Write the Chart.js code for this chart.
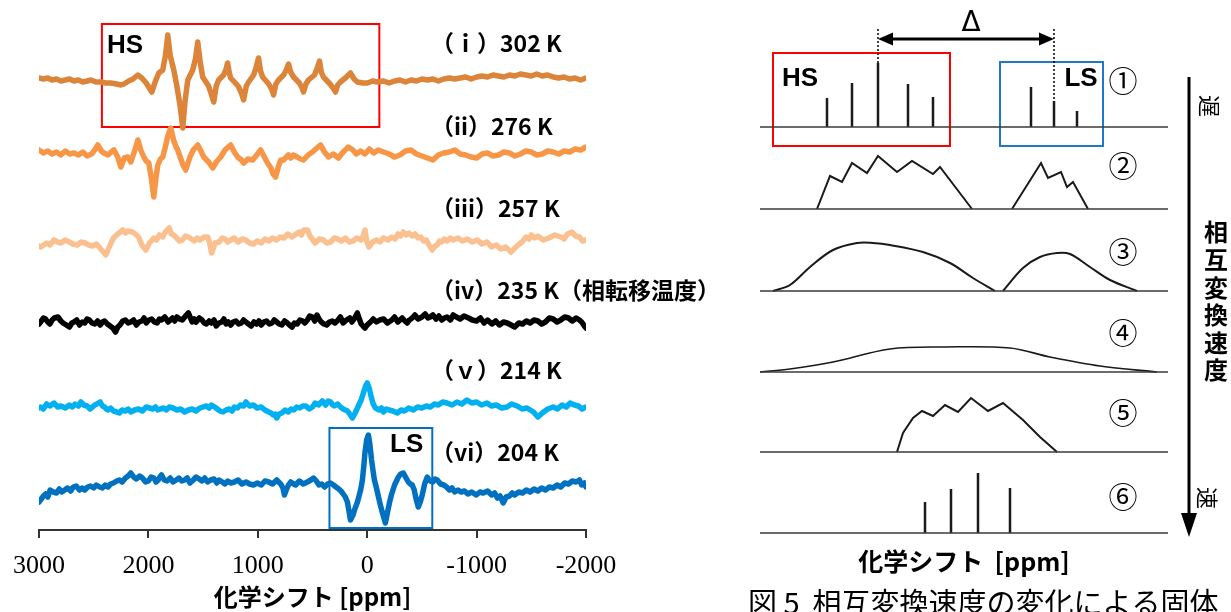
<!DOCTYPE html>
<html><head><meta charset="utf-8">
<script src="https://cdn.jsdelivr.net/npm/chart.js@4.4.1/dist/chart.umd.min.js"></script>
<style>
html,body{margin:0;padding:0;background:#fff;width:1231px;height:612px;overflow:hidden;}
#wrapL{position:absolute;left:0;top:0;width:1231px;height:612px;}
#wrapR{position:absolute;left:740px;top:0;width:491px;height:612px;}
canvas{display:block;}
</style></head><body>
<div id="wrapL"><canvas id="left" width="1231" height="612"></canvas></div>
<div id="wrapR"><canvas id="right" width="491" height="612"></canvas></div>
<script>
// ---------- LEFT PANEL DATA: [ppm, intensity] ----------
const spectrum302K = [[3000,3],[2960,2],[2920,3],[2880,1],[2840,2],[2800,0],[2760,1],[2720,2],[2680,0],[2640,1],[2600,-1],[2560,0],[2525,1],[2480,-1],[2434,-1],[2390,-2],[2343,-2],[2290,-3],[2250,-4],[2224,-3],[2180,0],[2140,2],[2097,6],[2060,3],[2020,-2],[1969,-11],[1935,0],[1905,8],[1869,11],[1845,25],[1823,46],[1800,25],[1768,11],[1740,-5],[1710,-25],[1686,-47],[1665,-20],[1640,1],[1595,11],[1570,22],[1549,39],[1525,18],[1504,4],[1450,-5],[1420,-15],[1403,-21],[1380,-5],[1358,1],[1312,6],[1290,12],[1276,18],[1260,8],[1248,3],[1180,-5],[1150,-12],[1130,-19],[1105,-5],[1084,-1],[1038,6],[1015,14],[993,23],[975,10],[956,4],[900,-3],[870,-9],[856,-14],[835,-3],[810,1],[764,6],[740,11],[719,17],[700,9],[673,4],[620,-2],[595,-7],[582,-11],[560,-3],[537,1],[482,6],[460,12],[436,20],[420,9],[400,4],[340,-3],[305,-8],[290,-11],[270,-4],[245,-1],[200,3],[153,8],[120,2],[89,-1],[40,-2],[-2,-2],[-50,0],[-93,-1],[-150,0],[-200,-2],[-250,0],[-300,1],[-350,-1],[-400,1],[-450,0],[-500,2],[-550,1],[-600,2],[-650,0],[-700,2],[-750,3],[-800,2],[-850,3],[-900,4],[-950,2],[-1000,4],[-1050,5],[-1100,4],[-1150,6],[-1200,5],[-1250,4],[-1300,6],[-1350,5],[-1400,7],[-1450,6],[-1500,5],[-1550,7],[-1600,5],[-1650,6],[-1700,4],[-1750,3],[-1800,4],[-1850,2],[-1900,3],[-1950,1],[-2000,3]];
const spectrum276K = [[3000,2],[2960,-1],[2920,1],[2880,-2],[2840,0],[2800,-3],[2760,1],[2720,-2],[2680,-1],[2640,-3],[2600,0],[2560,-4],[2520,-2],[2490,2],[2462,7],[2430,1],[2407,-1],[2370,-3],[2340,0],[2316,2],[2280,-5],[2252,-15],[2220,-6],[2188,-5],[2160,-10],[2130,0],[2096,12],[2070,2],[2042,-5],[2020,-9],[1996,-11],[1975,-25],[1951,-45],[1930,-25],[1914,-13],[1890,-7],[1869,-5],[1845,5],[1825,15],[1796,24],[1770,12],[1750,6],[1732,2],[1700,-8],[1680,-14],[1659,-18],[1620,-5],[1590,2],[1549,7],[1520,1],[1494,-5],[1450,-10],[1412,-16],[1380,-10],[1339,-5],[1300,2],[1270,5],[1248,7],[1215,0],[1184,-5],[1150,-8],[1129,-11],[1090,-7],[1047,-8],[1010,-3],[974,2],[940,-5],[911,-11],[880,-16],[860,-22],[838,-25],[810,-14],[790,-8],[765,-8],[720,-3],[700,-6],[674,-3],[640,-5],[610,-7],[582,-8],[540,-3],[500,0],[470,3],[427,7],[390,0],[354,-5],[310,-2],[263,-6],[220,0],[172,5],[130,2],[100,-2],[60,1],[20,-2],[-20,3],[-60,-1],[-100,2],[-150,0],[-200,-2],[-250,-5],[-300,-3],[-350,1],[-400,2],[-450,-2],[-500,-4],[-550,-6],[-600,-8],[-650,-3],[-700,-1],[-750,0],[-800,2],[-850,-2],[-900,-3],[-950,-5],[-1000,-6],[-1050,-2],[-1100,-1],[-1150,-4],[-1200,-3],[-1250,0],[-1300,-1],[-1350,-4],[-1400,-2],[-1450,1],[-1500,0],[-1550,-3],[-1600,-2],[-1650,1],[-1700,0],[-1750,-2],[-1800,1],[-1850,0],[-1900,3],[-1950,2],[-2000,5]];
const spectrum257K = [[3000,-3],[2985,-4],[2930,0],[2900,-2],[2863,3],[2830,1],[2800,0],[2760,3],[2723,1],[2690,-1],[2650,-2],[2615,1],[2580,0],[2545,-2],[2510,-3],[2475,-1],[2443,-5],[2389,-12],[2350,-2],[2320,5],[2280,9],[2234,13],[2210,10],[2190,12],[2143,11],[2110,8],[2090,6],[2060,-2],[2024,-7],[1990,0],[1950,5],[1925,3],[1900,8],[1870,6],[1845,11],[1809,15],[1790,9],[1770,8],[1741,5],[1715,2],[1690,3],[1660,7],[1634,6],[1605,4],[1580,2],[1555,5],[1530,3],[1490,6],[1457,6],[1440,0],[1423,-10],[1390,0],[1353,1],[1325,5],[1300,4],[1275,1],[1248,3],[1215,5],[1180,1],[1145,4],[1111,3],[1075,0],[1040,-1],[1005,2],[967,0],[935,4],[900,2],[865,5],[828,3],[795,6],[760,5],[725,9],[687,6],[650,9],[618,11],[600,8],[580,13],[545,13],[528,8],[510,5],[476,0],[440,4],[400,3],[370,0],[335,1],[300,5],[270,4],[235,2],[199,5],[165,1],[130,2],[95,5],[57,3],[38,7],[20,13],[5,2],[-16,-4],[-50,1],[-84,3],[-115,1],[-150,5],[-190,3],[-225,6],[-255,4],[-280,9],[-305,7],[-330,11],[-355,8],[-380,10],[-410,7],[-436,9],[-465,5],[-490,6],[-515,2],[-540,3],[-570,-3],[-595,-7],[-620,-3],[-640,-2],[-660,2],[-681,1],[-705,4],[-730,2],[-760,5],[-786,3],[-830,5],[-870,2],[-915,4],[-960,1],[-1005,3],[-1050,-1],[-1095,1],[-1136,-4],[-1180,-2],[-1220,-6],[-1265,-4],[-1314,-9],[-1350,-5],[-1380,-2],[-1415,1],[-1453,6],[-1480,4],[-1500,8],[-1530,5],[-1559,7],[-1610,3],[-1660,5],[-1715,8],[-1770,6],[-1800,4],[-1830,9],[-1872,11],[-1905,7],[-1940,6],[-1970,2],[-2000,3]];
const spectrum235K = [[3000,-2],[2985,0],[2960,4],[2940,3],[2920,0],[2900,-2],[2880,2],[2860,4],[2827,5],[2800,1],[2780,-1],[2750,-3],[2722,-5],[2700,-1],[2680,0],[2655,2],[2630,-3],[2605,0],[2582,-1],[2560,3],[2540,2],[2515,-1],[2490,-2],[2465,1],[2441,-3],[2420,0],[2400,1],[2375,-2],[2350,-4],[2325,-6],[2301,-10],[2280,-5],[2260,-3],[2235,1],[2210,2],[2185,-1],[2161,0],[2135,2],[2110,-3],[2085,0],[2060,1],[2040,4],[2020,-1],[1995,2],[1970,3],[1945,0],[1920,-1],[1900,3],[1880,2],[1850,5],[1820,0],[1800,2],[1780,4],[1760,1],[1740,5],[1715,3],[1690,2],[1660,6],[1634,9],[1615,4],[1600,0],[1580,3],[1564,0],[1535,4],[1510,2],[1490,-1],[1470,-2],[1445,1],[1424,-1],[1400,2],[1380,-4],[1355,-1],[1330,0],[1310,3],[1290,-2],[1270,0],[1248,-3],[1225,0],[1200,1],[1175,-2],[1150,-1],[1130,2],[1108,0],[1085,-2],[1060,-4],[1035,0],[1010,-2],[990,1],[968,-3],[945,0],[920,1],[895,-2],[870,-1],[850,2],[827,0],[805,-2],[780,-3],[755,1],[730,-1],[710,-3],[687,-5],[665,-1],[640,-2],[615,2],[590,1],[570,-1],[547,2],[525,6],[500,5],[480,1],[459,7],[440,3],[420,0],[395,-2],[371,-3],[345,0],[320,1],[295,-1],[266,2],[245,5],[220,-1],[190,2],[160,4],[140,0],[120,3],[105,6],[90,9],[72,3],[55,-2],[38,-4],[20,-6],[0,-3],[-30,0],[-55,3],[-85,0],[-115,2],[-150,3],[-185,-1],[-225,2],[-250,5],[-280,0],[-300,2],[-320,4],[-345,1],[-366,-1],[-385,2],[-400,3],[-420,5],[-436,7],[-465,3],[-500,5],[-530,8],[-555,4],[-576,5],[-600,7],[-630,3],[-655,6],[-681,2],[-705,4],[-730,5],[-760,2],[-787,7],[-815,5],[-850,3],[-885,6],[-927,4],[-960,2],[-1000,1],[-1035,4],[-1068,-1],[-1100,2],[-1140,-2],[-1175,1],[-1208,-3],[-1245,0],[-1280,-1],[-1315,-3],[-1348,-5],[-1385,-1],[-1420,-2],[-1455,1],[-1489,-1],[-1525,2],[-1560,1],[-1595,-2],[-1629,0],[-1665,4],[-1700,3],[-1735,0],[-1769,2],[-1805,5],[-1840,4],[-1875,1],[-1910,4],[-1940,2],[-1960,0],[-1985,-4],[-2000,-6]];
const spectrum214K = [[3000,2],[2985,3],[2960,1],[2930,6],[2900,4],[2862,7],[2830,3],[2800,4],[2760,2],[2722,5],[2695,3],[2670,6],[2640,4],[2617,8],[2590,5],[2560,4],[2535,1],[2512,3],[2490,5],[2470,6],[2441,8],[2420,4],[2400,3],[2385,1],[2371,0],[2345,2],[2320,-1],[2290,-2],[2266,-3],[2240,0],[2210,-1],[2185,1],[2161,-2],[2125,0],[2090,1],[2055,-1],[2020,3],[1990,2],[1960,1],[1935,3],[1915,0],[1890,1],[1860,2],[1835,0],[1810,3],[1775,2],[1740,0],[1705,1],[1669,-2],[1635,0],[1600,1],[1565,-1],[1529,2],[1500,3],[1470,4],[1445,2],[1424,5],[1395,3],[1370,1],[1345,-1],[1318,-2],[1290,0],[1260,1],[1235,-1],[1213,3],[1185,2],[1160,5],[1130,4],[1108,8],[1075,4],[1040,5],[1005,2],[968,3],[935,0],[900,-2],[880,-3],[860,-5],[840,-4],[827,-8],[805,-4],[780,-3],[750,0],[722,-2],[695,1],[670,0],[645,3],[617,2],[590,4],[560,4],[530,1],[500,3],[476,7],[445,5],[410,9],[380,5],[356,9],[336,8],[315,5],[300,4],[270,6],[245,3],[220,1],[200,0],[180,-1],[160,-4],[135,-8],[110,-3],[81,4],[55,10],[35,17],[15,24],[0,27],[-18,22],[-37,13],[-55,6],[-75,2],[-110,0],[-130,2],[-148,-2],[-175,1],[-200,0],[-235,-1],[-275,-3],[-310,0],[-340,-1],[-380,2],[-421,0],[-460,3],[-500,2],[-540,4],[-577,3],[-615,6],[-650,5],[-690,8],[-730,7],[-775,5],[-820,8],[-865,6],[-912,10],[-955,7],[-1000,8],[-1045,5],[-1095,7],[-1135,4],[-1180,5],[-1230,2],[-1277,3],[-1320,6],[-1370,4],[-1415,1],[-1460,2],[-1490,0],[-1520,-2],[-1560,-7],[-1600,-3],[-1650,1],[-1700,3],[-1740,1],[-1780,5],[-1820,3],[-1855,7],[-1895,5],[-1930,4],[-1965,1],[-2000,3]];
const spectrum204K = [[3000,-12],[2985,-10],[2960,-6],[2940,-4],[2920,-7],[2898,0],[2870,-2],[2840,-3],[2815,1],[2792,-2],[2765,0],[2740,2],[2710,-1],[2687,3],[2660,4],[2630,0],[2605,2],[2582,0],[2555,3],[2530,4],[2500,2],[2476,5],[2445,3],[2420,2],[2395,5],[2371,3],[2345,6],[2320,7],[2290,9],[2266,10],[2240,8],[2210,12],[2185,14],[2161,17],[2135,13],[2110,11],[2080,14],[2055,12],[2025,8],[2000,9],[1975,13],[1950,12],[1930,8],[1910,10],[1895,13],[1880,15],[1855,10],[1830,9],[1800,12],[1775,8],[1745,10],[1720,12],[1695,9],[1669,10],[1645,12],[1620,7],[1590,10],[1564,13],[1535,11],[1510,9],[1485,12],[1459,8],[1430,10],[1400,11],[1375,7],[1354,10],[1325,8],[1300,6],[1275,9],[1248,7],[1215,8],[1180,10],[1145,6],[1108,8],[1075,6],[1040,5],[1005,7],[968,5],[935,9],[900,8],[865,6],[827,10],[800,7],[790,6],[770,2],[757,-5],[740,0],[720,5],[700,8],[687,7],[655,5],[620,9],[585,6],[547,8],[515,10],[490,12],[465,9],[441,5],[415,6],[390,3],[362,6],[336,7],[308,5],[285,3],[260,1],[240,-1],[226,-3],[200,-7],[181,-12],[165,-22],[153,-30],[130,-25],[110,-18],[89,-12],[70,-4],[60,0],[44,10],[30,25],[20,38],[5,50],[-11,55],[-25,45],[-40,30],[-55,18],[-66,10],[-80,4],[-95,-3],[-120,-15],[-145,-25],[-166,-33],[-190,-20],[-205,-12],[-221,-5],[-250,5],[-285,13],[-305,16],[-330,17],[-355,12],[-376,8],[-395,6],[-412,5],[-430,0],[-445,-8],[-467,-17],[-485,-12],[-503,-5],[-525,6],[-549,13],[-575,9],[-600,8],[-620,11],[-640,10],[-670,6],[-700,5],[-725,3],[-752,0],[-775,2],[-800,-2],[-830,0],[-857,-2],[-890,-1],[-920,-4],[-955,-2],[-997,-5],[-1030,-2],[-1060,-3],[-1100,-1],[-1138,-5],[-1165,-3],[-1190,-8],[-1215,-6],[-1243,-13],[-1270,-7],[-1300,-6],[-1325,-3],[-1348,-5],[-1385,-2],[-1420,-3],[-1455,0],[-1489,-2],[-1525,1],[-1560,-1],[-1595,2],[-1629,0],[-1665,3],[-1700,2],[-1735,5],[-1769,3],[-1805,7],[-1840,6],[-1875,9],[-1910,8],[-1940,10],[-1960,5],[-1985,7],[-2000,3]];
const spectraList = [spectrum302K, spectrum276K, spectrum257K, spectrum235K, spectrum214K, spectrum204K];
const traceOffsets = [449, 378, 287, 208, 120, 40];
const tempLabels = ['（ｉ）302 K','（ii）276 K','（iii）257 K','（iv）235 K（相転移温度）','（ｖ）214 K','（vi）204 K'];
const xTickValues = [3000, 2000, 1000, 0, -1000, -2000];
const xTickLabels = ['3000', '2000', '1000', '0', '-1000', '-2000'];
const hsRegionPpm = [2425, -111];
const lsRegionPpm = [345, -595];
const regionNames = ['HS', 'LS'];

// ---------- RIGHT PANEL DATA (schematic) ----------
const schemeBaseX = [0, 408];
const schemeOffsets = [413, 331, 249, 168, 88, 7];
const stick1HsX = [67, 92, 118, 148, 173];
const stick1HsH = [29, 44, 64, 43, 30];
const stick1LsX = [271, 294, 317];
const stick1LsH = [40, 26, 16];
const band2HsX = [57, 70, 82, 92, 107, 118, 137, 152, 173, 180, 212];
const band2HsH = [0, 33, 27, 46, 36, 53, 37, 48, 35, 42, 0];
const band2LsX = [252, 281, 288, 301, 307, 313, 328];
const band2LsH = [0, 46, 31, 37, 22, 27, 0];
const band3HsX = [13, 30, 50, 73, 97, 113, 130, 163, 190, 213, 235];
const band3HsH = [0, 6, 24, 41, 48, 48, 46, 39, 28, 13, 0];
const band3LsX = [243, 263, 280, 297, 310, 330, 350, 377];
const band3LsH = [0, 23, 34, 38, 37, 24, 11, 0];
const band4X = [0, 30, 73, 130, 183, 250, 290, 340, 397];
const band4H = [0, 3, 10, 23, 25, 24, 15, 6, 0];
const band5X = [137, 143, 153, 162, 173, 185, 198, 211, 228, 243, 263, 280, 297];
const band5H = [0, 19, 34, 41, 36, 47, 40, 54, 41, 49, 32, 15, 0];
const stick6X = [165, 191, 218, 250];
const stick6H = [31, 44, 60, 45];
const circledNums = ['①','②','③','④','⑤','⑥'];
const deltaLevel = 501;
const dashTop = 511;
const hsBoxX = [13, 190];
const lsBoxX = [240, 343];

// ---------- helpers ----------
const pairs = (arr, off) => arr.map(p => ({x: p[0], y: p[1] + off}));
const series = (xs, hs, off) => xs.map((x, i) => ({x: x, y: hs[i] + off}));
const sticks = (xs, hs, off) => { const d = []; xs.forEach((x, i) => { d.push({x: x, y: off}, {x: x, y: off + hs[i]}, {x: x, y: null}); }); return d; };
const rect = (x0, x1, y0, y1) => [{x:x0,y:y0},{x:x1,y:y0},{x:x1,y:y1},{x:x0,y:y1},{x:x0,y:y0}];

// ---------- LEFT CHART ----------
const traceColors = ['#DC8439', '#F79646', '#FAC090', '#000000', '#00B0F0', '#0070C0'];
const leftDatasets = spectraList.map((s, i) => ({
  data: pairs(s, traceOffsets[i]), borderColor: traceColors[i], borderWidth: 5.5,
  pointRadius: 0, tension: 0, borderJoinStyle: 'round', borderCapStyle: 'round', order: 1, fill: false
}));
leftDatasets.push({data: rect(hsRegionPpm[0], hsRegionPpm[1], 403, 506), borderColor: '#FF0000', borderWidth: 2, pointRadius: 0, tension: 0, order: 5, borderCapStyle: 'square'});
leftDatasets.push({data: rect(lsRegionPpm[0], lsRegionPpm[1], 2, 102), borderColor: '#0070C0', borderWidth: 2, pointRadius: 0, tension: 0, order: 5, borderCapStyle: 'square'});

const leftText = {
  id: 'leftText',
  afterDraw(chart) {
    const c = chart.ctx; c.save();
    c.fillStyle = '#000'; c.textBaseline = 'middle'; c.textAlign = 'left';
    c.font = 'bold 23px "Noto Sans CJK JP", sans-serif';
    const ys = [43, 126, 208, 290, 370, 452];
    tempLabels.forEach((t, i) => c.fillText(t, 431, ys[i]));
    c.font = 'bold 26px "Liberation Sans", Arial, sans-serif';
    c.fillText(regionNames[0], 107, 46);
    c.fillText(regionNames[1], 390, 445);
    c.restore();
  }
};

new Chart(document.getElementById('left'), {
  type: 'line',
  data: {datasets: leftDatasets},
  options: {
    responsive: false, animation: false, devicePixelRatio: 1,
    layout: {padding: {left: 38, right: 645, top: 0, bottom: 0}},
    plugins: {legend: {display: false}, tooltip: {enabled: false}},
    elements: {line: {fill: false}},
    spanGaps: false,
    scales: {
      x: {
        type: 'linear', min: -2000, max: 3000, reverse: true,
        afterFit: s => { s.height = 82; },
        ticks: {stepSize: 1000, autoSkip: false, maxRotation: 0, padding: 13, color: '#000',
          font: {family: '"Liberation Serif", "Times New Roman", serif', size: 26},
          callback: v => { const k = xTickValues.indexOf(v); return k >= 0 ? xTickLabels[k] : ''; }},
        grid: {display: true, drawOnChartArea: false, drawTicks: true, tickLength: 8, color: '#333', lineWidth: 2},
        border: {display: true, color: '#333', width: 2},
        title: {display: true, text: '化学シフト [ppm]', color: '#000', padding: {top: 0, bottom: 1},
          font: {family: '"Noto Sans CJK JP", sans-serif', size: 24, weight: 'bold'}}
      },
      y: {type: 'linear', min: 0, max: 530, display: false}
    }
  },
  plugins: [leftText]
});

// ---------- RIGHT CHART ----------
const ink = '#1a1a1a';
const rightDatasets = [];
schemeOffsets.forEach(off => rightDatasets.push({data: schemeBaseX.map(x => ({x: x, y: off})), borderColor: '#3a3a3a', borderWidth: 1.5, pointRadius: 0}));
rightDatasets.push({data: sticks(stick1HsX, stick1HsH, schemeOffsets[0]), borderColor: ink, borderWidth: 2.5, pointRadius: 0, spanGaps: false});
rightDatasets.push({data: sticks(stick1LsX, stick1LsH, schemeOffsets[0]), borderColor: ink, borderWidth: 2.5, pointRadius: 0, spanGaps: false});
rightDatasets.push({data: series(band2HsX, band2HsH, schemeOffsets[1]), borderColor: ink, borderWidth: 2, pointRadius: 0, borderJoinStyle: 'miter'});
rightDatasets.push({data: series(band2LsX, band2LsH, schemeOffsets[1]), borderColor: ink, borderWidth: 2, pointRadius: 0, borderJoinStyle: 'miter'});
rightDatasets.push({data: series(band3HsX, band3HsH, schemeOffsets[2]), borderColor: ink, borderWidth: 2, pointRadius: 0, tension: 0.35});
rightDatasets.push({data: series(band3LsX, band3LsH, schemeOffsets[2]), borderColor: ink, borderWidth: 2, pointRadius: 0, tension: 0.35});
rightDatasets.push({data: series(band4X, band4H, schemeOffsets[3]), borderColor: ink, borderWidth: 1.6, pointRadius: 0, tension: 0.35});
rightDatasets.push({data: series(band5X, band5H, schemeOffsets[4]), borderColor: ink, borderWidth: 2, pointRadius: 0, borderJoinStyle: 'miter'});
rightDatasets.push({data: sticks(stick6X, stick6H, schemeOffsets[5]), borderColor: ink, borderWidth: 2.5, pointRadius: 0, spanGaps: false});
// dotted guides and delta arrow shaft
rightDatasets.push({data: [{x: stick1HsX[2], y: dashTop}, {x: stick1HsX[2], y: schemeOffsets[0] + stick1HsH[2]}], borderColor: '#000', borderWidth: 1.5, borderDash: [2, 2], pointRadius: 0});
rightDatasets.push({data: [{x: stick1LsX[1], y: dashTop}, {x: stick1LsX[1], y: schemeOffsets[0] + stick1LsH[1]}], borderColor: '#000', borderWidth: 1.5, borderDash: [2, 2], pointRadius: 0});
rightDatasets.push({data: [{x: stick1HsX[2] + 8, y: deltaLevel}, {x: stick1LsX[1] - 8, y: deltaLevel}], borderColor: '#000', borderWidth: 3, pointRadius: 0});
// boxes
rightDatasets.push({data: rect(hsBoxX[0], hsBoxX[1], 394, 487), borderColor: '#FF0000', borderWidth: 2, pointRadius: 0, borderCapStyle: 'square'});
rightDatasets.push({data: rect(lsBoxX[0], lsBoxX[1], 394, 478), borderColor: '#1F78C8', borderWidth: 2, pointRadius: 0, borderCapStyle: 'square'});

const rightText = {
  id: 'rightText',
  afterDraw(chart) {
    const c = chart.ctx, xs = chart.scales.x, ys = chart.scales.y;
    c.save();
    c.fillStyle = '#000';
    // delta arrowheads
    const ya = ys.getPixelForValue(deltaLevel);
    const xa = xs.getPixelForValue(stick1HsX[2]), xb = xs.getPixelForValue(stick1LsX[1]);
    c.beginPath(); c.moveTo(xa, ya); c.lineTo(xa + 15, ya - 6.5); c.lineTo(xa + 15, ya + 6.5); c.closePath(); c.fill();
    c.beginPath(); c.moveTo(xb, ya); c.lineTo(xb - 15, ya - 6.5); c.lineTo(xb - 15, ya + 6.5); c.closePath(); c.fill();
    c.textAlign = 'center'; c.textBaseline = 'middle';
    c.font = '28px "DejaVu Sans", sans-serif';
    c.fillText('Δ', (xa + xb) / 2 + 5, 24);
    // HS / LS
    c.font = 'bold 26px "Liberation Sans", Arial, sans-serif';
    c.fillText(regionNames[0], 60, 79);
    c.fillText(regionNames[1], 341, 79);
    // circled numbers
    c.font = '29px "Noto Sans CJK JP", sans-serif';
    const cy = [81, 166, 252, 333, 413, 497];
    circledNums.forEach((t, i) => c.fillText(t, 383, cy[i]));
    // vertical arrow
    c.strokeStyle = '#000'; c.lineWidth = 3;
    c.beginPath(); c.moveTo(449, 77); c.lineTo(449, 516); c.stroke();
    c.beginPath(); c.moveTo(449, 537); c.lineTo(441, 513); c.lineTo(457, 513); c.closePath(); c.fill();
    // slow / fast (rotated)
    c.font = '22px "Noto Sans CJK JP", sans-serif';
    c.save(); c.translate(469, 106); c.rotate(Math.PI / 2); c.fillText('遅', 0, 0); c.restore();
    c.save(); c.translate(467, 498); c.rotate(Math.PI / 2); c.fillText('速', 0, 0); c.restore();
    // vertical label
    c.font = 'bold 24px "Noto Sans CJK JP", sans-serif';
    const vchars = ['相', '互', '変', '換', '速', '度'];
    const vy = [232, 260, 288, 315, 343, 370];
    vchars.forEach((t, i) => c.fillText(t, 476, vy[i]));
    // caption (cut by the bottom edge)
    c.textAlign = 'left'; c.textBaseline = 'top';
    c.font = '29px "Noto Sans CJK JP", sans-serif';
    c.fillText('図 5  相互変換速度の変化による固体', 8, 588);
    c.restore();
  }
};

new Chart(document.getElementById('right'), {
  type: 'line',
  data: {datasets: rightDatasets},
  options: {
    responsive: false, animation: false, devicePixelRatio: 1,
    layout: {padding: {left: 20, right: 63, top: 0, bottom: 0}},
    plugins: {legend: {display: false}, tooltip: {enabled: false}},
    spanGaps: false,
    scales: {
      x: {
        type: 'linear', min: 0, max: 408,
        afterFit: s => { s.height = 72; },
        ticks: {display: false}, grid: {display: false}, border: {display: false},
        title: {display: true, text: '化学シフト  [ppm]', color: '#000', padding: {top: 0, bottom: 36},
          font: {family: '"Noto Sans CJK JP", sans-serif', size: 25, weight: 'bold'}}
      },
      y: {type: 'linear', min: 0, max: 540, display: false}
    }
  },
  plugins: [rightText]
});
</script>
</body></html>
